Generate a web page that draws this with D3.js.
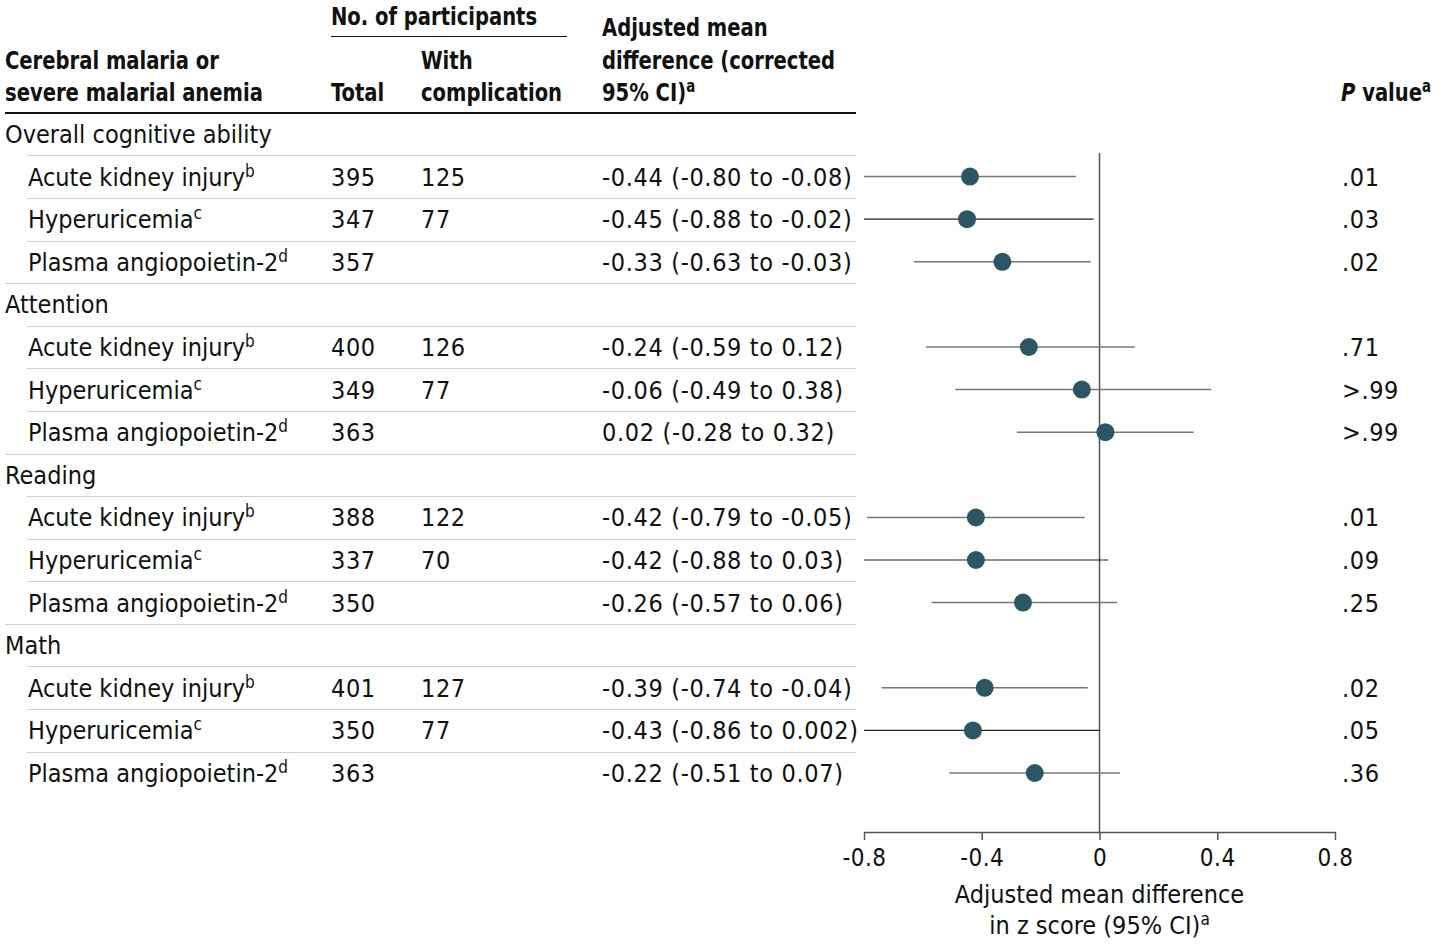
<!DOCTYPE html>
<html><head><meta charset="utf-8">
<script src="https://cdn.jsdelivr.net/npm/d3@7/dist/d3.min.js"></script>
<style>
body{margin:0;background:#fff;}
svg text{font-family:"Liberation Sans Narrow","DejaVu Sans Condensed","Roboto Condensed",sans-serif;fill:#111;}
</style></head>
<body><svg id="c" width="1435" height="944"></svg>
<script>
const sections = ["Overall cognitive ability","Attention","Reading","Math"];
const complications = ["Acute kidney injury","Hyperuricemia","Plasma angiopoietin-2"];
const compSup = ["b","c","d"];
const totals = [[395,347,357],[400,349,363],[388,337,350],[401,350,363]];
const withComp = [[125,77,null],[126,77,null],[122,70,null],[127,77,null]];
const estimates = [[-0.44,-0.45,-0.33],[-0.24,-0.06,0.02],[-0.42,-0.42,-0.26],[-0.39,-0.43,-0.22]];
const lowers = [[-0.80,-0.88,-0.63],[-0.59,-0.49,-0.28],[-0.79,-0.88,-0.57],[-0.74,-0.86,-0.51]];
const uppers = [[-0.08,-0.02,-0.03],[0.12,0.38,0.32],[-0.05,0.03,0.06],[-0.04,0.002,0.07]];
const ciLabels = [["-0.44 (-0.80 to -0.08)","-0.45 (-0.88 to -0.02)","-0.33 (-0.63 to -0.03)"],
  ["-0.24 (-0.59 to 0.12)","-0.06 (-0.49 to 0.38)","0.02 (-0.28 to 0.32)"],
  ["-0.42 (-0.79 to -0.05)","-0.42 (-0.88 to 0.03)","-0.26 (-0.57 to 0.06)"],
  ["-0.39 (-0.74 to -0.04)","-0.43 (-0.86 to 0.002)","-0.22 (-0.51 to 0.07)"]];
const pValues = [[".01",".03",".02"],[".71",">.99",">.99"],[".01",".09",".25"],[".02",".05",".36"]];
const xTicks = [-0.8,-0.4,0,0.4,0.8];

const svg = d3.select("#c");
const FS = 25, SUP = 17, HX = 0.87;
const x = d3.scaleLinear().domain([-0.8,0.8]).range([864,1335]);
const rowH = 42.6, firstY = 134;
const rows = [];
sections.forEach((s,si)=>{
  rows.push({type:"sec",label:s,si});
  complications.forEach((c,ci)=>rows.push({type:"row",si,ci}));
});
const y = d3.scaleLinear().domain([0,1]).range([firstY, firstY+rowH]);

// header (bold, horizontally condensed)
const hd = svg.append("g").attr("font-weight","bold").attr("font-size",FS);
function hText(px,py,anchor){
  return hd.append("text").attr("transform",`translate(${px},${py}) scale(${HX},1)`)
    .attr("text-anchor",anchor||"start");
}
hText(331,25).text("No. of participants");
hText(5,69).text("Cerebral malaria or");
hText(5,101).text("severe malarial anemia");
hText(331,101).text("Total");
hText(421,69).text("With");
hText(421,101).text("complication");
hText(602,36).text("Adjusted mean");
hText(602,69).text("difference (corrected");
const t95 = hText(602,101);
t95.append("tspan").text("95% CI)");
t95.append("tspan").attr("font-size",SUP).attr("dy",-9).text("a");
const pv = hText(1431,101,"end");
pv.append("tspan").attr("font-style","italic").text("P");
pv.append("tspan").text(" value");
pv.append("tspan").attr("font-size",SUP).attr("dy",-9).text("a");

svg.append("line").attr("x1",331).attr("x2",567).attr("y1",36.5).attr("y2",36.5).attr("stroke","#111").attr("stroke-width",1);
svg.append("line").attr("x1",5).attr("x2",856).attr("y1",113).attr("y2",113).attr("stroke","#111").attr("stroke-width",2);

// rows
const body = svg.append("g").attr("font-size",FS);
rows.forEach((r,i)=>{
  const cy = y(i);
  if(r.type==="sec"){
    body.append("text").attr("x",5).attr("y",cy+9).text(r.label);
  } else {
    const t = body.append("text").attr("x",28).attr("y",cy+9);
    t.append("tspan").text(complications[r.ci]);
    t.append("tspan").attr("font-size",SUP).attr("dy",-9).text(compSup[r.ci]);
    body.append("text").attr("x",331).attr("y",cy+9).attr("letter-spacing",0.6).text(totals[r.si][r.ci]);
    if(withComp[r.si][r.ci]!=null) body.append("text").attr("x",421).attr("y",cy+9).attr("letter-spacing",0.6).text(withComp[r.si][r.ci]);
    body.append("text").attr("x",602).attr("y",cy+9).attr("letter-spacing",0.65).text(ciLabels[r.si][r.ci]);
    body.append("text").attr("x",1342).attr("y",cy+9).attr("letter-spacing",0.6).text(pValues[r.si][r.ci]);
  }
  if(i < rows.length-1){
    const sy = Math.round(cy + rowH/2)+0.5;
    const lastInSec = r.type==="row" && r.ci===complications.length-1;
    svg.append("line").attr("x1", lastInSec?5:27).attr("x2",856).attr("y1",sy).attr("y2",sy)
      .attr("stroke","#cfcfcf").attr("stroke-width",1.2);
  }
});

// reference line
svg.append("line").attr("x1",x(0)).attr("x2",x(0)).attr("y1",153).attr("y2",832)
  .attr("stroke","#555").attr("stroke-width",1.5);

// CIs and points
const pts = svg.append("g");
rows.forEach((r,i)=>{
  if(r.type!=="row") return;
  const cy = y(i);
  const lo = Math.max(-0.8, lowers[r.si][r.ci]), hi = Math.min(0.8, uppers[r.si][r.ci]);
  const clipped = lowers[r.si][r.ci] < -0.8;
  pts.append("line").attr("x1",x(lo)).attr("x2",x(hi)).attr("y1",cy).attr("y2",cy)
    .attr("stroke",clipped?"#222":"#777").attr("stroke-width",clipped?1.2:1.5);
  pts.append("circle").attr("cx",x(estimates[r.si][r.ci])).attr("cy",cy).attr("r",9).attr("fill","#2c5663");
});

// axis
const ax = svg.append("g").attr("transform","translate(0,832)")
  .call(d3.axisBottom(x).tickValues(xTicks).tickSize(8).tickSizeOuter(0)
    .tickFormat(d=> d===0 ? "0" : d.toFixed(1)));
ax.select(".domain").attr("stroke","#555").attr("stroke-width",1.5);
ax.selectAll(".tick line").attr("stroke","#555").attr("stroke-width",1.5);
ax.selectAll(".tick text").attr("font-size",24).attr("fill","#111").attr("dy",0).attr("y",34)
  .attr("letter-spacing",0.5)
  .style("font-family",'"Liberation Sans Narrow","DejaVu Sans Condensed","Roboto Condensed",sans-serif');

const at = svg.append("g").attr("font-size",FS).attr("text-anchor","middle");
at.append("text").attr("x",x(0)).attr("y",903).text("Adjusted mean difference");
const at2 = at.append("text").attr("x",x(0)).attr("y",934);
at2.append("tspan").text("in z score (95% CI)");
at2.append("tspan").attr("font-size",SUP).attr("dy",-9).text("a");
</script></body></html>
